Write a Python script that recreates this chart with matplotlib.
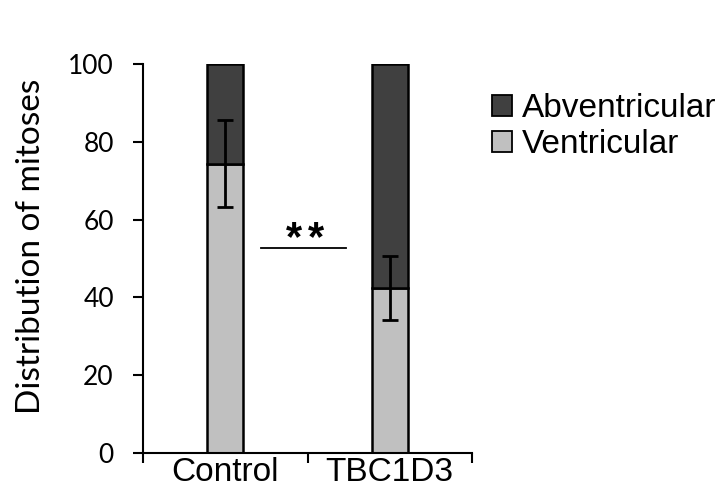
import matplotlib
matplotlib.use("Agg")
import matplotlib.pyplot as plt
from matplotlib.patches import Patch

categories = ["Control", "TBC1D3"]
ventricular = [74.4, 42.5]
abventricular = [25.6, 57.5]
ventricular_err = [11.2, 8.2]
yticks = [0, 20, 40, 60, 80, 100]
sig_label = "**"
sig_y = 52.6

dark = "#404040"
light = "#c0c0c0"

fig = plt.figure(figsize=(7.27, 4.94), dpi=100)
ax = fig.add_axes([143 / 727, 41 / 494, 329 / 727, 389 / 494])

x = list(range(len(categories)))
w = 0.22
ax.bar(x, ventricular, width=w, color=light, edgecolor="black", linewidth=1.8, zorder=2)
ax.bar(x, abventricular, width=w, bottom=ventricular, color=dark, edgecolor="black",
       linewidth=1.8, zorder=2)
ax.errorbar(x, ventricular, yerr=ventricular_err, fmt="none", ecolor="black",
            elinewidth=2.0, capsize=5.5, capthick=2.0, zorder=3)

ax.set_xlim(-0.5, 1.5)
ax.set_ylim(0, 100)
ax.set_yticks(yticks)
ax.set_yticklabels([str(t) for t in yticks], fontfamily="Lato", fontsize=19)
ax.tick_params(axis="y", direction="out", length=7, width=1.5, pad=14)

ax.set_xticks(x)
ax.set_xticklabels(categories, fontfamily="Liberation Sans", fontsize=24)
ax.tick_params(axis="x", which="major", length=0, pad=3)
ax.set_xticks([-0.5, 0.5, 1.5], minor=True)
ax.tick_params(axis="x", which="minor", direction="out", length=7, width=1.5)

for side in ("top", "right"):
    ax.spines[side].set_visible(False)
for side in ("left", "bottom"):
    ax.spines[side].set_linewidth(1.5)

ax.set_ylabel("Distribution of mitoses", fontfamily="Lato", fontsize=24)
ax.yaxis.set_label_coords(-0.295, 0.53)

# significance bracket between the groups
ax.plot([0.217, 0.734], [sig_y, sig_y], color="black", linewidth=1.3, clip_on=False)
star_x = [0.415, 0.549]
for ch, sx in zip(sig_label, star_x):
    ax.text(sx, sig_y - 0.5, ch, ha="center", va="baseline",
            fontfamily="Liberation Sans", fontweight="bold", fontsize=30)

handles = [Patch(facecolor=dark, edgecolor="black", linewidth=1.3, label="Abventricular"),
           Patch(facecolor=light, edgecolor="black", linewidth=1.3, label="Ventricular")]
fig.legend(handles=handles, loc="upper left", bbox_to_anchor=(492 / 727, 1 - 93 / 494),
           frameon=False, prop={"family": "Liberation Sans", "size": 24},
           handlelength=0.6, handleheight=0.6, handletextpad=0.3, labelspacing=0.15,
           borderaxespad=0, borderpad=0)

fig.savefig("out.png", dpi=100)
